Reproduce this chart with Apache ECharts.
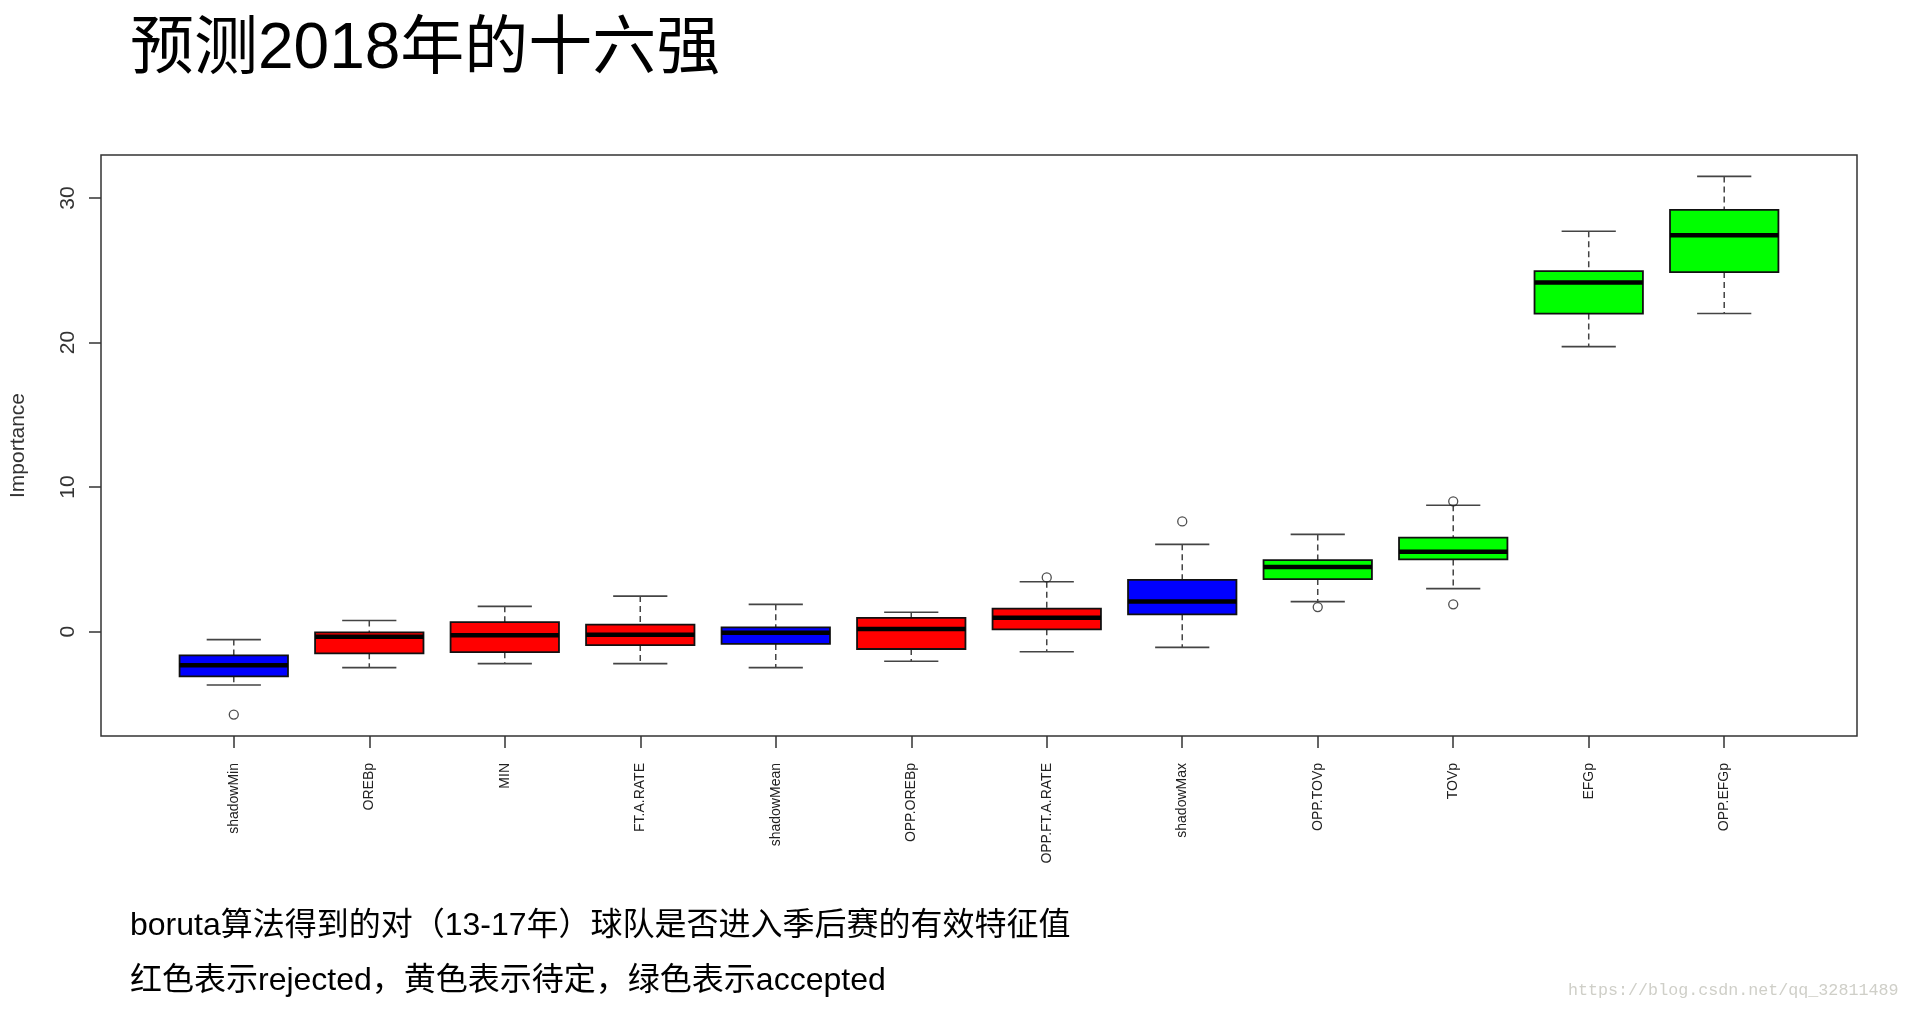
<!DOCTYPE html>
<html>
<head>
<meta charset="utf-8">
<script src="https://cdn.jsdelivr.net/npm/echarts@6/dist/echarts.min.js"></script>
<style>
html,body{margin:0;padding:0;background:#fff;}
#chart{width:1909px;height:1011px;}
</style>
</head>
<body>
<div id="chart"></div>
<script>
// ---- data ----
var categories = ['shadowMin','OREBp','MIN','FT.A.RATE','shadowMean','OPP.OREBp','OPP.FT.A.RATE','shadowMax','OPP.TOVp','TOVp','EFGp','OPP.EFGp'];
var decision   = ['shadow','rejected','rejected','rejected','shadow','rejected','rejected','shadow','accepted','accepted','accepted','accepted'];
var lowWhisker  = [-3.69, -2.49, -2.21, -2.21, -2.49, -2.05, -1.39, -1.09, 2.08, 2.98, 19.72, 22.01];
var lowerQuart  = [-3.09, -1.50, -1.42, -0.93, -0.85, -1.20, 0.16, 1.20, 3.64, 5.00, 22.01, 24.88];
var medians     = [-2.32, -0.36, -0.25, -0.22, -0.08, 0.19, 0.96, 2.08, 4.48, 5.52, 24.15, 27.43];
var upperQuart  = [-1.64, -0.05, 0.66, 0.49, 0.30, 0.96, 1.59, 3.58, 4.95, 6.51, 24.94, 29.18];
var highWhisker = [-0.55, 0.77, 1.75, 2.46, 1.89, 1.34, 3.45, 6.04, 6.73, 8.75, 27.70, 31.50];
var outlierCat  = [1, 7, 8, 9, 10, 10];
var outlierVal  = [-5.74, 3.75, 7.63, 1.70, 9.02, 1.89];
var yTicks = [0, 10, 20, 30];
var decisionColors = {shadow:'#0000FF', rejected:'#FF0000', accepted:'#00FF00'};

var positions = categories.map(function(c, i){ return i + 1; });
var boxData = categories.map(function(c, i){
  return [i + 1, lowWhisker[i], lowerQuart[i], medians[i], upperQuart[i], highWhisker[i], i];
});
var outlierData = outlierCat.map(function(c, i){ return [c, outlierVal[i]]; });

var chart = echarts.init(document.getElementById('chart'));

function renderBox(params, api){
  var x = api.value(0);
  var idx = api.value(6);
  var pLow = api.coord([x, api.value(1)]);
  var pQ1 = api.coord([x, api.value(2)]);
  var pMed = api.coord([x, api.value(3)]);
  var pQ3 = api.coord([x, api.value(4)]);
  var pHigh = api.coord([x, api.value(5)]);
  var unit = api.size([1, 0])[0];
  var halfBox = unit * 0.4;
  var halfCap = unit * 0.2;
  var cx = pMed[0];
  var whiskerStyle = {stroke:'#444', lineWidth:1.5, lineDash:[6,4]};
  var capStyle = {stroke:'#444', lineWidth:1.6};
  return {
    type:'group',
    children:[
      {type:'line', shape:{x1:cx, y1:pHigh[1], x2:cx, y2:pQ3[1]}, style:whiskerStyle},
      {type:'line', shape:{x1:cx, y1:pQ1[1], x2:cx, y2:pLow[1]}, style:whiskerStyle},
      {type:'line', shape:{x1:cx-halfCap, y1:pHigh[1], x2:cx+halfCap, y2:pHigh[1]}, style:capStyle},
      {type:'line', shape:{x1:cx-halfCap, y1:pLow[1], x2:cx+halfCap, y2:pLow[1]}, style:capStyle},
      {type:'rect', shape:{x:cx-halfBox, y:pQ3[1], width:halfBox*2, height:pQ1[1]-pQ3[1]},
        style:{fill:decisionColors[decision[idx]], stroke:'#111', lineWidth:1.8}},
      {type:'line', shape:{x1:cx-halfBox, y1:pMed[1], x2:cx+halfBox, y2:pMed[1]},
        style:{stroke:'#000', lineWidth:4.5}}
    ]
  };
}

var option = {
  backgroundColor:'#ffffff',
  animation:false,
  grid:{left:100, right:52, top:155, bottom:275, show:true, borderColor:'#333', borderWidth:1.5, backgroundColor:'transparent'},
  xAxis:{
    type:'value', min:0.02, max:12.98, position:'bottom',
    splitLine:{show:false},
    axisLine:{show:false, onZero:false},
    axisTick:{show:true, customValues:positions, length:12, inside:false, lineStyle:{color:'#333', width:1.5}},
    axisLabel:{show:true, customValues:positions, rotate:90, margin:27, fontSize:14,
      fontFamily:'Liberation Sans, Arial, sans-serif', color:'#222',
      formatter:function(v){ return categories[Math.round(v) - 1] || ''; }}
  },
  yAxis:{
    type:'value', min:-7.22, max:32.98, position:'left',
    name:'Importance', nameLocation:'middle', nameGap:72, nameRotate:90,
    nameTextStyle:{fontSize:21, fontFamily:'Liberation Sans, Arial, sans-serif', color:'#333'},
    splitLine:{show:false},
    axisLine:{show:false, onZero:false},
    axisTick:{show:true, customValues:yTicks, length:12, lineStyle:{color:'#333', width:1.5}},
    axisLabel:{show:true, customValues:yTicks, rotate:90, margin:22, fontSize:21,
      fontFamily:'Liberation Sans, Arial, sans-serif', color:'#333'}
  },
  series:[
    {type:'custom', renderItem:renderBox, data:boxData, encode:{x:0, y:[1,2,3,4,5]}, z:2},
    {type:'scatter', data:outlierData, symbol:'circle', symbolSize:9,
      itemStyle:{color:'rgba(255,255,255,0)', borderColor:'#222', borderWidth:1.3}, z:3}
  ],
  graphic:[
    {type:'text', x:130, y:50, style:{text:'预测2018年的十六强', fontSize:64,
      fontFamily:'Liberation Sans, "Noto Sans CJK SC", sans-serif', fill:'#000', verticalAlign:'middle'}},
    {type:'text', x:130, y:926, style:{text:'boruta算法得到的对（13-17年）球队是否进入季后赛的有效特征值', fontSize:32,
      fontFamily:'Liberation Sans, "Noto Sans CJK SC", sans-serif', fill:'#000', verticalAlign:'middle'}},
    {type:'text', x:130, y:981, style:{text:'红色表示rejected，黄色表示待定，绿色表示accepted', fontSize:32,
      fontFamily:'Liberation Sans, "Noto Sans CJK SC", sans-serif', fill:'#000', verticalAlign:'middle'}},
    {type:'text', x:1568, y:991, style:{text:'https://blog.csdn.net/qq_32811489', fontSize:16.7,
      fontFamily:'Liberation Mono, "DejaVu Serif", monospace', fill:'#cfcfc8', verticalAlign:'middle'}}
  ]
};
chart.setOption(option);
</script>
</body>
</html>
